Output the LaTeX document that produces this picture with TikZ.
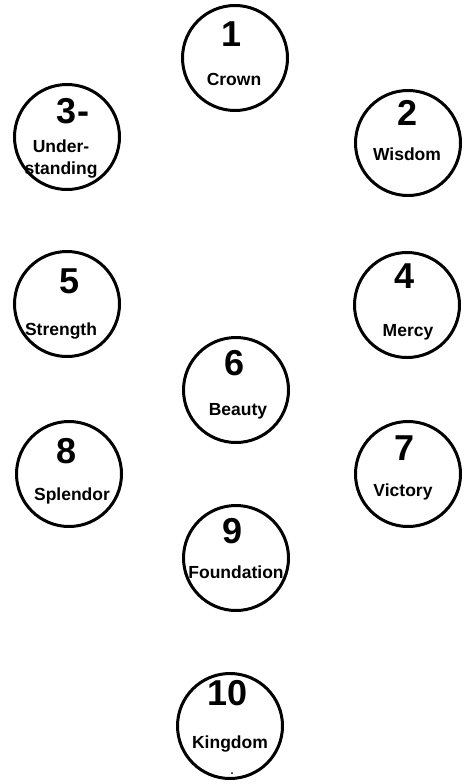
\documentclass[tikz,border=0pt]{standalone}
\usepackage{fontspec}
\setmainfont{Liberation Sans}
\usepackage{tikz}
\usetikzlibrary{positioning}

\tikzset{
  sephira/.style={draw, circle, line width=3pt, minimum size=105pt, inner sep=0pt},
  num/.style={anchor=base, inner sep=0pt, font=\fontsize{36}{36}\selectfont\bfseries},
  lbl/.style={anchor=base, inner sep=0pt, font=\fontsize{17.5}{18}\selectfont\bfseries}
}

\begin{document}
\begin{tikzpicture}
\begin{scope}[x=1pt, y=-1pt]
\useasboundingbox (0,0) rectangle (463,784);

\node[sephira] (crown) at (235,58) {};
\node[num] (n1) at (232,47) {1};
\node[lbl] (t1) at (234,85) {Crown};

\node[sephira] (wisdom) at (408,143) {};
\node[num] (n2) at (408,125) {2};
\node[lbl] (t2) at (407,160) {Wisdom};

\node[sephira] (underst) at (67,137) {};
\node[num] (n3) at (73,123) {3-};
\node[lbl] (t3a) at (61,152) {Under-};
\node[lbl] (t3b) at (61,174) {standing};

\node[sephira] (mercy) at (407,305) {};
\node[num] (n4) at (405,288) {4};
\node[lbl] (t4) at (408,336) {Mercy};

\node[sephira] (strength) at (67,304) {};
\node[num] (n5) at (70,293) {5};
\node[lbl] (t5) at (61,335) {Strength};

\node[sephira] (beauty) at (236,390) {};
\node[num] (n6) at (235,375) {6};
\node[lbl] (t6) at (238,415) {Beauty};

\node[sephira] (victory) at (408,474) {};
\node[num] (n7) at (405,460) {7};
\node[lbl] (t7) at (403,496) {Victory};

\node[sephira] (splendor) at (69,474) {};
\node[num] (n8) at (67,463) {8};
\node[lbl] (t8) at (72,500) {Splendor};

\node[sephira] (foundation) at (236,558) {};
\node[num] (n9) at (233,543) {9};
\node[lbl] (t9) at (236,578) {Foundation};

\node[sephira] (kingdom) at (230,726) {};
\node[num] (n10) at (228,705) {10};
\node[lbl] (t10) at (230,748) {Kingdom};
\fill (232,773) circle (1pt);
\end{scope}
\end{tikzpicture}
\end{document}
